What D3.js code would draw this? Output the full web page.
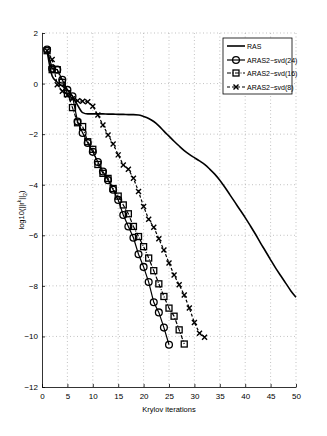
<!DOCTYPE html>
<html>
<head>
<meta charset="utf-8">
<script src="https://cdn.jsdelivr.net/npm/d3@7"></script>
<style>
  body { margin: 0; background: #fff; }
  text { font-family: 'Liberation Sans Narrow', 'Liberation Sans', Arial, sans-serif; }
</style>
</head>
<body>
<div class="graph"></div>
<script>
// values
var rasIter = d3.range(1, 51);
var rasRes = [1.3, 0.3, 0.05, -0.1, -0.25, -0.5, -0.85, -1.15, -1.2, -1.2,
  -1.2, -1.2, -1.21, -1.21, -1.22, -1.22, -1.23, -1.23, -1.24, -1.3,
  -1.38, -1.5, -1.67, -1.88, -2.08, -2.28, -2.47, -2.65, -2.8, -2.93,
  -3.06, -3.2, -3.38, -3.58, -3.82, -4.1, -4.4, -4.7, -5.0, -5.3,
  -5.62, -5.95, -6.3, -6.63, -6.97, -7.3, -7.6, -7.9, -8.2, -8.45];

var svd24Iter = d3.range(1, 26);
var svd24Res = [1.35, 0.6, 0.55, 0.15, -0.25, -0.5, -1.5, -1.95, -2.35, -2.7,
  -3.1, -3.48, -3.82, -4.2, -4.6, -5.2, -5.65, -6.1, -6.75, -7.25,
  -7.85, -8.65, -9.05, -9.65, -10.33];

var svd16Iter = d3.range(1, 29);
var svd16Res = [1.3, 0.55, 0.55, 0.05, -0.4, -0.95, -1.55, -1.7, -2.3, -2.6,
  -3.2, -3.55, -3.75, -4.15, -4.45, -4.8, -5.15, -5.65, -6.05, -6.45,
  -6.9, -7.4, -7.92, -8.42, -8.88, -9.2, -9.74, -10.3];

var svd8Iter = d3.range(1, 33);
var svd8Res = [1.3, 0.95, -0.05, -0.3, -0.45, -0.6, -0.68, -0.7, -0.72, -0.9,
  -1.24, -1.64, -2.03, -2.39, -2.82, -3.22, -3.39, -3.74, -4.27, -4.86,
  -5.37, -5.68, -6.14, -6.58, -7.1, -7.57, -7.96, -8.36, -8.88, -9.45,
  -9.87, -10.03];

var seriesNames = ['RAS', 'ARAS2\u2212svd(24)', 'ARAS2\u2212svd(16)', 'ARAS2\u2212svd(8)'];
var xTicks = d3.range(0, 51, 5);
var yTicks = d3.range(-12, 3, 2);

var width = 327,
    height = 436,
    plotL = 42, plotR = 296, plotT = 33, plotB = 387;

var svg = d3.select('.graph')
  .append('svg')
  .attr('width', width)
  .attr('height', height);

var xScale = d3.scaleLinear().domain([0, 50]).range([plotL, plotR]);
var yScale = d3.scaleLinear().domain([-12, 2]).range([plotB, plotT]);

// grid
svg.append('g')
  .selectAll('line')
  .data(xTicks.slice(1))
  .enter().append('line')
  .attr('x1', d => xScale(d)).attr('x2', d => xScale(d))
  .attr('y1', plotT).attr('y2', plotB)
  .attr('stroke', '#999').attr('stroke-width', 0.6)
  .attr('stroke-dasharray', '1,2.5');

svg.append('g')
  .selectAll('line')
  .data(yTicks.slice(1))
  .enter().append('line')
  .attr('x1', plotL).attr('x2', plotR)
  .attr('y1', d => yScale(d)).attr('y2', d => yScale(d))
  .attr('stroke', '#999').attr('stroke-width', 0.6)
  .attr('stroke-dasharray', '1,2.5');

// axes, ticks pointing inward
var xAxis = d3.axisBottom(xScale).tickValues(xTicks).tickSizeInner(-3).tickSizeOuter(0).tickPadding(6);
var yAxis = d3.axisLeft(yScale).tickValues(yTicks).tickSizeInner(-3).tickSizeOuter(0).tickPadding(4)
  .tickFormat(d => d < 0 ? '\u2212' + Math.abs(d) : d);

var gx = svg.append('g')
  .attr('transform', 'translate(0,' + plotB + ')')
  .call(xAxis);
var gy = svg.append('g')
  .attr('transform', 'translate(' + plotL + ',0)')
  .call(yAxis);

[gx, gy].forEach(g => {
  g.selectAll('path').attr('stroke', '#000').attr('stroke-width', 0.8);
  g.selectAll('line').attr('stroke', '#000').attr('stroke-width', 0.8);
  g.selectAll('text').attr('font-size', 8).attr('fill', '#000')
    .style('font-family', "'Liberation Sans Narrow', 'Liberation Sans', Arial, sans-serif");
});

// lines
var line = d3.line().x(d => xScale(d[0])).y(d => yScale(d[1]));

function pairs(xs, ys) { return xs.map((x, i) => [x, ys[i]]); }

var rasData = pairs(rasIter, rasRes);
var svd24Data = pairs(svd24Iter, svd24Res);
var svd16Data = pairs(svd16Iter, svd16Res);
var svd8Data = pairs(svd8Iter, svd8Res);

svg.append('path').datum(rasData)
  .attr('d', line.curve(d3.curveMonotoneX))
  .attr('fill', 'none').attr('stroke', '#000').attr('stroke-width', 1.6);

line.curve(d3.curveLinear);

svg.append('path').datum(svd24Data)
  .attr('d', line)
  .attr('fill', 'none').attr('stroke', '#000').attr('stroke-width', 1.2);

svg.append('path').datum(svd16Data)
  .attr('d', line)
  .attr('fill', 'none').attr('stroke', '#000').attr('stroke-width', 1.2)
  .attr('stroke-dasharray', '4,1.5,1,1.5');

svg.append('path').datum(svd8Data)
  .attr('d', line)
  .attr('fill', 'none').attr('stroke', '#000').attr('stroke-width', 1.2)
  .attr('stroke-dasharray', '3,2');

// markers
function circleMarker(g, x, y) {
  g.append('circle').attr('cx', x).attr('cy', y).attr('r', 3.4)
    .attr('fill', 'none').attr('stroke', '#000').attr('stroke-width', 1.3);
}
function squareMarker(g, x, y) {
  g.append('rect').attr('x', x - 3).attr('y', y - 3).attr('width', 6).attr('height', 6)
    .attr('fill', 'none').attr('stroke', '#000').attr('stroke-width', 1.3);
}
function crossMarker(g, x, y) {
  var s = 2.5;
  g.append('path').attr('d', 'M' + (x - s) + ',' + (y - s) + 'L' + (x + s) + ',' + (y + s) +
      'M' + (x - s) + ',' + (y + s) + 'L' + (x + s) + ',' + (y - s))
    .attr('stroke', '#000').attr('stroke-width', 1.4).attr('fill', 'none');
}

var mk = svg.append('g');
svd24Data.forEach(d => circleMarker(mk, xScale(d[0]), yScale(d[1])));
svd16Data.forEach(d => squareMarker(mk, xScale(d[0]), yScale(d[1])));
svd8Data.forEach(d => crossMarker(mk, xScale(d[0]), yScale(d[1])));

// labels
svg.append('text')
  .text('Krylov iterations')
  .attr('x', (plotL + plotR) / 2)
  .attr('y', 412)
  .attr('text-anchor', 'middle')
  .attr('font-size', 7.5);

var ylab = svg.append('text')
  .attr('transform', 'translate(24,' + ((plotT + plotB) / 2) + ') rotate(-90)')
  .attr('text-anchor', 'middle')
  .attr('font-size', 7.5);
ylab.append('tspan').text('log10(||r');
ylab.append('tspan').text('k').attr('baseline-shift', 'super').attr('font-size', 5);
ylab.append('tspan').text('||');
ylab.append('tspan').text('2').attr('baseline-shift', 'sub').attr('font-size', 5);
ylab.append('tspan').text(')');

// legend
var legend = svg.append('g');
legend.append('rect')
  .attr('x', 223).attr('y', 38).attr('width', 69).attr('height', 56)
  .attr('fill', '#fff').attr('stroke', '#000').attr('stroke-width', 0.8);

var legY = [46, 60, 73, 87];
var legStyles = [
  { dash: null, w: 1.6, m: null },
  { dash: null, w: 1.2, m: circleMarker },
  { dash: '4,1.5,1,1.5', w: 1.2, m: squareMarker },
  { dash: '3,2', w: 1.2, m: crossMarker }
];

seriesNames.forEach((name, i) => {
  var y = legY[i];
  legend.append('line')
    .attr('x1', 227).attr('x2', 245).attr('y1', y).attr('y2', y)
    .attr('stroke', '#000').attr('stroke-width', legStyles[i].w)
    .attr('stroke-dasharray', legStyles[i].dash);
  if (legStyles[i].m) legStyles[i].m(legend, 236, y);
  legend.append('text')
    .text(name)
    .attr('x', 247).attr('y', y + 2.6)
    .attr('font-size', 7);
});
</script>
</body>
</html>
